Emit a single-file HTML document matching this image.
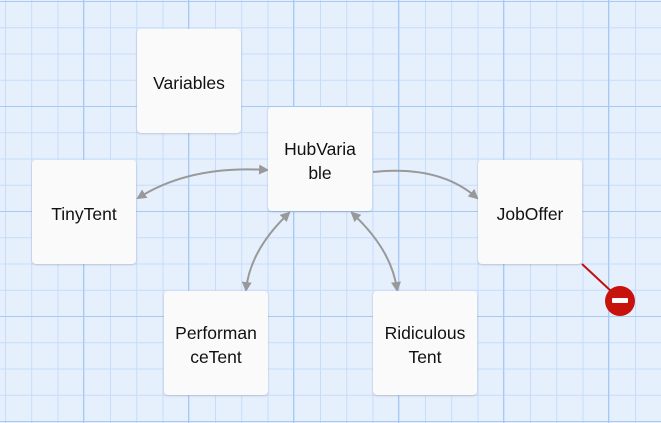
<!DOCTYPE html>
<html><head><style>
body{margin:0;width:661px;height:423px;overflow:hidden;background:#e6f0fd;font-family:"Liberation Sans",sans-serif}
.n{position:absolute;width:104px;height:104px;background:#fafafa;border-radius:4px;box-shadow:0 1px 2px rgba(0,0,0,.15);display:flex;align-items:center;justify-content:center;text-align:center;font-size:17.5px;color:#111;line-height:24px;padding-top:3px;box-sizing:border-box}
</style></head><body>
<svg width="661" height="423" style="position:absolute;left:0;top:0">
<defs>
<pattern id="m" x="5" y="1" width="26.25" height="26.25" patternUnits="userSpaceOnUse"><path d="M0.5 0V26.25M0 0.5H26.25" stroke="#c6dcfa" stroke-width="1" fill="none"/></pattern>
<pattern id="M" x="-22" y="1" width="105" height="105" patternUnits="userSpaceOnUse"><path d="M0.5 0V105M0 0.5H105" stroke="#a8c9f4" stroke-width="1" fill="none"/></pattern>
<marker id="a" markerWidth="10" markerHeight="10" refX="8" refY="5" orient="auto-start-reverse" markerUnits="userSpaceOnUse"><path d="M0 0L10 5L0 10z" fill="#999"/></marker>
</defs>
<rect width="661" height="423" fill="url(#m)"/>
<rect width="661" height="423" fill="url(#M)"/>
<g stroke="#999" stroke-width="2" fill="none" marker-start="url(#a)" marker-end="url(#a)">
<path d="M138 198Q190 165 267 170"/>
<path d="M373 172Q440 165 477 198" marker-start="none"/>
<path d="M289 213Q250 250 246 290"/>
<path d="M352 213Q392 250 397 290"/>
</g>
<line x1="582" y1="264" x2="612" y2="292" stroke="#c01010" stroke-width="2"/>
<circle cx="620" cy="301" r="15" fill="#c8120c"/>
<rect x="612" y="298" width="16" height="5" rx="1" fill="#fff"/>
</svg>
<div class="n" style="left:137px;top:29px">Variables</div>
<div class="n" style="left:268px;top:107px">HubVaria<br>ble</div>
<div class="n" style="left:32px;top:160px">TinyTent</div>
<div class="n" style="left:478px;top:160px">JobOffer</div>
<div class="n" style="left:164px;top:291px">Performan<br>ceTent</div>
<div class="n" style="left:373px;top:291px">Ridiculous<br>Tent</div>
</body></html>
